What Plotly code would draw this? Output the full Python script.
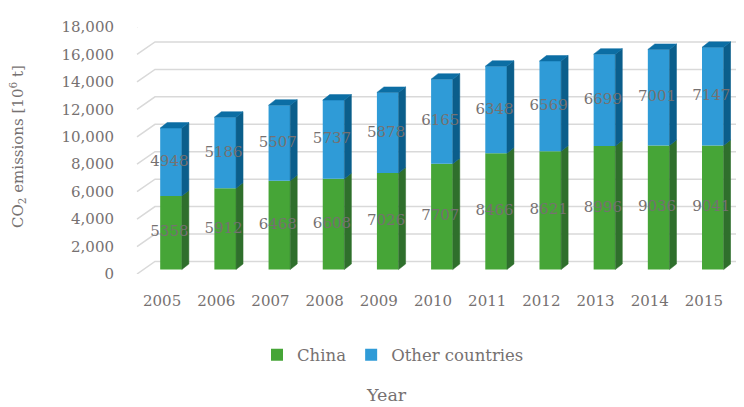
import numpy as np
import plotly.graph_objects as go

# CO2 emissions, million tonnes
years = ["2005", "2006", "2007", "2008", "2009", "2010",
         "2011", "2012", "2013", "2014", "2015"]
china = [5358, 5912, 6468, 6608, 7026, 7707, 8466, 8621, 8996, 9036, 9041]
other = [4948, 5186, 5507, 5737, 5878, 6165, 6348, 6569, 6699, 7001, 7147]
y_ticks = list(range(0, 18001, 2000))

FONT = "DejaVu Serif"
GREY = "#767171"
GREEN, GREEN_SIDE = "#46a537", "#2f6f2c"
BLUE, BLUE_SIDE, BLUE_TOP = "#2f9bd7", "#0b5e8b", "#0c6ea4"

W, H = 744, 407
L, R, T, B = 135, 13, 27, 133
plot_h = H - T - B

idx = np.arange(len(years))
bar_w = 0.40
bar_off = -0.035
depth_x = 0.129                       # side-face depth in category units
depth_y = 5.5 * 18000 / plot_h        # side-face depth in value units
floor_lift = 4.5 * 18000 / plot_h     # bars stand slightly above the front floor edge
back_lift = 12.5 * 18000 / plot_h     # back wall gridlines

fig = go.Figure()

fig.add_trace(go.Bar(x=idx, y=china, name="China", marker_color=GREEN,
                     marker_line_width=0, width=bar_w, offset=bar_off,
                     yaxis="y2"))
fig.add_trace(go.Bar(x=idx, y=other, name="Other countries", base=china,
                     marker_color=BLUE, marker_line_width=0, width=bar_w,
                     offset=bar_off, yaxis="y2"))


def side_faces(bases, tops):
    xs, ys = [], []
    for i, (b0, b1) in enumerate(zip(bases, tops)):
        x1 = i + bar_off + bar_w
        xs += [x1, x1 + depth_x, x1 + depth_x, x1, x1, None]
        ys += [b0, b0 + depth_y, b1 + depth_y, b1, b0, None]
    return xs, ys


def top_faces(tops):
    xs, ys = [], []
    for i, t in enumerate(tops):
        x0 = i + bar_off
        x1 = x0 + bar_w
        xs += [x0, x0 + depth_x, x1 + depth_x, x1, x0, None]
        ys += [t, t + depth_y, t + depth_y, t, t, None]
    return xs, ys


totals = [c + o for c, o in zip(china, other)]
zeros = [0] * len(china)

for xs, ys, col in [(*side_faces(zeros, china), GREEN_SIDE),
                    (*side_faces(china, totals), BLUE_SIDE),
                    (*top_faces(totals), BLUE_TOP)]:
    fig.add_trace(go.Scatter(x=xs, y=ys, mode="lines", fill="toself",
                             fillcolor=col, line=dict(width=0.5, color=col),
                             yaxis="y2", showlegend=False, hoverinfo="skip"))

# value labels in the middle of each segment
label_x = idx + bar_off + bar_w / 2 - 0.03
fig.add_trace(go.Scatter(x=label_x, y=[c / 2 for c in china], mode="text",
                         text=[str(v) for v in china], yaxis="y2",
                         textfont=dict(family=FONT, size=15, color=GREY),
                         showlegend=False, hoverinfo="skip"))
fig.add_trace(go.Scatter(x=label_x, y=[c + o / 2 for c, o in zip(china, other)],
                         mode="text", text=[str(v) for v in other], yaxis="y2",
                         textfont=dict(family=FONT, size=15, color=GREY),
                         showlegend=False, hoverinfo="skip"))

# 3D-style gridlines: short oblique run on the left wall, then along the back wall
px = lambda p: (p - L) / (W - L - R)
shapes = []
for v in y_ticks:
    shapes.append(dict(
        type="path", xref="paper", yref="y", layer="below",
        path=f"M {px(137)},{v} L {px(155)},{v + back_lift} L {px(736)},{v + back_lift}",
        line=dict(color="#d9d9d9", width=1.5)))

fig.update_layout(
    width=W, height=H,
    margin=dict(l=L, r=R, t=T, b=B),
    paper_bgcolor="white", plot_bgcolor="white",
    barmode="overlay",
    font=dict(family=FONT, size=15, color=GREY),
    shapes=shapes,
    xaxis=dict(range=[-0.5, len(years) - 0.5], tickvals=idx, ticktext=years,
               showgrid=False, zeroline=False, showline=False,
               ticklabelstandoff=16, tickfont=dict(size=15, color=GREY)),
    yaxis=dict(range=[0, 18000], tickvals=y_ticks, tickformat=",",
               showgrid=False, zeroline=False, showline=False,
               ticklabelstandoff=20, tickfont=dict(size=15, color=GREY)),
    yaxis2=dict(range=[-floor_lift, 18000 - floor_lift], overlaying="y",
                visible=False),
    legend=dict(orientation="h", x=px(257), xanchor="left",
                y=(H - B - 355) / plot_h, yanchor="middle",
                font=dict(family=FONT, size=16.5, color=GREY),
                itemwidth=30, traceorder="normal", bgcolor="rgba(0,0,0,0)"),
    annotations=[
        dict(text="CO<sub>2</sub> emissions [10<sup>6</sup> t]", textangle=-90,
             xref="paper", yref="paper", x=px(17), y=(H - B - 147) / plot_h,
             xanchor="center", yanchor="middle", showarrow=False,
             font=dict(family=FONT, size=15, color=GREY)),
        dict(text="Year", xref="paper", yref="paper", x=px(386),
             y=(H - B - 395) / plot_h, xanchor="center", yanchor="middle",
             showarrow=False, font=dict(family=FONT, size=17.5, color=GREY)),
    ],
)

fig.write_html("out.html")
